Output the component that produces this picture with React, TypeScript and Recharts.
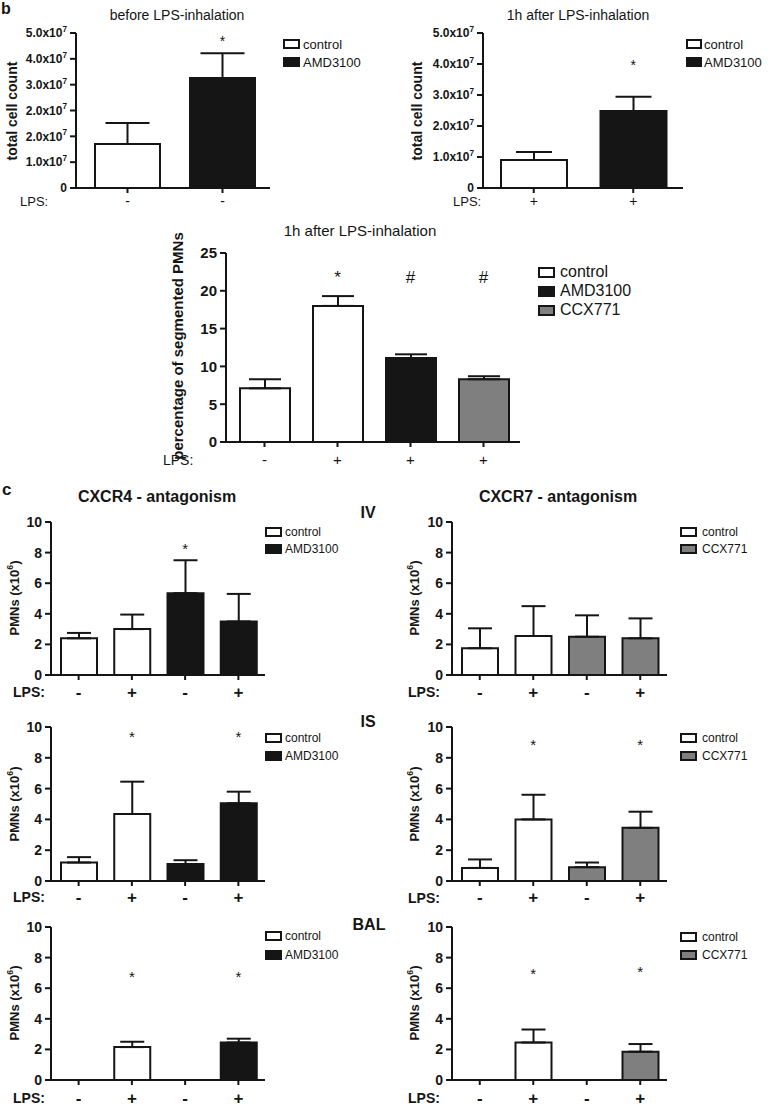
import React from 'react';
import { ComposedChart, Bar, Cell, XAxis, YAxis, ErrorBar, Line } from 'recharts';

const FONT = '"Liberation Sans", Arial, Helvetica, sans-serif';
const INK = '#151515';
const COLORS: Record<string, string> = { control: '#ffffff', AMD3100: '#151515', CCX771: '#7f7f7f' };

// ---------- panel b: total cell count ----------
const topGroups = ['control', 'AMD3100'];
const beforeLps = ['-', '-'];
const beforeCount = [1.42e7, 3.55e7];
const beforeSem = [0.68e7, 0.8e7];
const beforeSig = ['', '*'];
const beforeSigY = [null, 4.84e7];
const beforeTicks = [0, 0.8333e7, 1.6667e7, 2.5e7, 3.3333e7, 4.1667e7, 5e7];
const beforeTickLabels = ['0', '1.0x10^7', '2.0x10^7', '2.0x10^7', '3.0x10^7', '4.0x10^7', '5.0x10^7'];

const afterLps = ['+', '+'];
const afterCount = [0.9e7, 2.48e7];
const afterSem = [0.26e7, 0.46e7];
const afterSig = ['', '*'];
const afterSigY = [null, 4.06e7];
const afterTicks = [0, 1e7, 2e7, 3e7, 4e7, 5e7];
const afterTickLabels = ['0', '1.0x10^7', '2.0x10^7', '3.0x10^7', '4.0x10^7', '5.0x10^7'];

// ---------- panel b: percentage of segmented PMNs ----------
const pmnGroups = ['control', 'control', 'AMD3100', 'CCX771'];
const pmnLps = ['-', '+', '+', '+'];
const pmnPct = [7.1, 18.0, 11.1, 8.3];
const pmnSem = [1.2, 1.3, 0.5, 0.4];
const pmnSig = ['', '*', '#', '#'];
const pmnSigY = [null, 22.4, 21.8, 21.8];
const pmnTicks = [0, 5, 10, 15, 20, 25];
const pmnTickLabels = ['0', '5', '10', '15', '20', '25'];

// ---------- panel c ----------
const cLps = ['-', '+', '-', '+'];
const cxcr4Groups = ['control', 'control', 'AMD3100', 'AMD3100'];
const cxcr7Groups = ['control', 'control', 'CCX771', 'CCX771'];
const cTicks = [0, 2, 4, 6, 8, 10];
const cTickLabels = ['0', '2', '4', '6', '8', '10'];
const cSig = ['', '*', '*', '*'];
const ivSig4 = ['', '', '*', ''];

const iv4Val = [2.4, 3.0, 5.35, 3.5];
const iv4Sem = [0.35, 0.95, 2.15, 1.8];
const iv4SigY = [null, null, 8.5, null];

const iv7Val = [1.75, 2.55, 2.5, 2.4];
const iv7Sem = [1.3, 1.95, 1.4, 1.3];
const iv7SigY = [null, null, null, null];

const is4Val = [1.2, 4.35, 1.1, 5.05];
const is4Sem = [0.35, 2.1, 0.25, 0.75];
const is4SigY = [null, 9.6, null, 9.6];

const is7Val = [0.85, 4.0, 0.9, 3.45];
const is7Sem = [0.55, 1.6, 0.3, 1.05];
const is7SigY = [null, 9.1, null, 9.1];

const bal4Val = [0, 2.15, 0, 2.45];
const bal4Sem = [0, 0.35, 0, 0.25];
const bal4SigY = [null, 7.0, null, 7.0];

const bal7Val = [0, 2.45, 0, 1.85];
const bal7Sem = [0, 0.85, 0, 0.5];
const bal7SigY = [null, 7.2, null, 7.3];

type Row = { cat: string; lps: string; group: string; value: number; err: number[]; markY: number | null; mark: string };

function buildRows(groups: string[], lps: string[], values: number[], sems: number[], marks: string[], markY: (number | null)[]): Row[] {
  return values.map((v, i) => ({
    cat: String(i),
    lps: lps[i],
    group: groups[i],
    value: v,
    err: [0, sems[i]],
    markY: markY[i],
    mark: marks[i],
  }));
}

function TickText({ x, y, label, fs, anchor }: { x: number; y: number; label: string; fs: number; anchor: string }) {
  const parts = label.split('^');
  return (
    <text x={x} y={y} textAnchor={anchor as any} fontSize={fs} fontWeight="bold" fontFamily={FONT} fill={INK}>
      <tspan>{parts[0]}</tspan>
      {parts[1] ? (
        <tspan dy={-0.45 * fs} fontSize={0.68 * fs}>
          {parts[1]}
        </tspan>
      ) : null}
    </text>
  );
}

type PanelCfg = {
  left: number;
  top: number;
  width: number;
  height: number;
  x0: number;
  x1: number;
  yT: number;
  yB: number;
  yMax: number;
  ticks: number[];
  tickLabels: string[];
  rows: Row[];
  barSize: number;
  capHalf: number;
  yFont: number;
  xFont: number;
  xBold: boolean;
  xOffset: number;
  markFont: number;
  padLeft: number;
};

function Panel({ cfg }: { cfg: PanelCfg }) {
  const { left, top, width, height, x0, x1, yT, yB, yMax, ticks, tickLabels, rows, barSize, capHalf, yFont, xFont, xBold, xOffset, markFont, padLeft } = cfg;
  const yW = x0 - left;
  const xH = 25;
  const margin = { top: yT - top, right: left + width - x1, bottom: top + height - yB - xH, left: 0 };
  const axisY = yB - top;

  const xTick = (p: any) => {
    const idx = parseInt(p.payload.value, 10);
    const lab = rows[idx] ? rows[idx].lps : '';
    return (
      <text
        key={`xt${idx}`}
        x={p.x}
        y={axisY + xOffset + 0.33 * xFont}
        textAnchor="middle"
        fontSize={xFont}
        fontWeight={xBold ? 'bold' : 'normal'}
        fontFamily={FONT}
        fill={INK}
      >
        {lab}
      </text>
    );
  };

  const yTick = (p: any) => {
    const v = p.payload.value;
    let i = ticks.indexOf(v);
    if (i < 0) i = p.index;
    return (
      <g key={`yt${i}`}>
        <TickText x={yW - 9} y={p.y + 0.36 * yFont} label={tickLabels[i] || ''} fs={yFont} anchor="end" />
      </g>
    );
  };

  const markDot = (p: any) => {
    const { cx, cy, payload, index } = p;
    if (!payload || payload.markY == null || cy == null || isNaN(cy) || !payload.mark) return <g key={`m${index}`} />;
    const ch = payload.mark;
    const base = cy + (ch === '*' ? 0.58 : 0.36) * markFont;
    return (
      <text key={`m${index}`} x={cx} y={base} textAnchor="middle" fontSize={markFont} fontFamily={FONT} fill={INK}>
        {ch}
      </text>
    );
  };

  return (
    <div style={{ position: 'absolute', left, top, width, height }}>
      <ComposedChart width={width} height={height} data={rows} margin={margin}>
        <XAxis
          dataKey="cat"
          height={xH}
          interval={0}
          tickSize={5}
          padding={{ left: padLeft, right: 0 }}
          axisLine={{ stroke: INK, strokeWidth: 2 }}
          tickLine={{ stroke: INK, strokeWidth: 2 }}
          tick={xTick}
        />
        <YAxis
          width={yW}
          type="number"
          domain={[0, yMax]}
          allowDataOverflow
          ticks={ticks}
          interval={0}
          tickSize={6}
          axisLine={{ stroke: INK, strokeWidth: 2 }}
          tickLine={{ stroke: INK, strokeWidth: 2 }}
          tick={yTick}
        />
        <Bar dataKey="value" barSize={barSize} stroke={INK} strokeWidth={2} isAnimationActive={false}>
          {rows.map((r, i) => (
            <Cell key={`c${i}`} fill={COLORS[r.group]} />
          ))}
          <ErrorBar dataKey="err" width={capHalf} stroke={INK} strokeWidth={2} direction="y" />
        </Bar>
        <Line dataKey="markY" stroke="none" dot={markDot} activeDot={false} isAnimationActive={false} legendType="none" />
      </ComposedChart>
    </div>
  );
}

function T({ x, y, children, size = 14, bold = false, anchor = 'middle', rotate = false }: any) {
  const tx = anchor === 'middle' || rotate ? '-50%' : anchor === 'end' ? '-100%' : '0px';
  return (
    <div
      style={{
        position: 'absolute',
        left: x,
        top: y,
        transform: `translate(${tx}, -50%)${rotate ? ' rotate(-90deg)' : ''}`,
        whiteSpace: 'nowrap',
        fontFamily: FONT,
        fontSize: size,
        fontWeight: bold ? 'bold' : 'normal',
        lineHeight: 1,
        color: INK,
      }}
    >
      {children}
    </div>
  );
}

function Legend({ x, textX, ys, items, size, boxW, boxH }: { x: number; textX: number; ys: number[]; items: string[]; size: number; boxW: number; boxH: number }) {
  return (
    <>
      {items.map((it, i) => (
        <React.Fragment key={it}>
          <div
            style={{
              position: 'absolute',
              left: x,
              top: ys[i] - boxH / 2,
              width: boxW - 4,
              height: boxH - 4,
              border: `2px solid ${INK}`,
              background: COLORS[it],
            }}
          />
          <T x={textX} y={ys[i]} size={size} anchor="start">
            {it}
          </T>
        </React.Fragment>
      ))}
    </>
  );
}

const Sup = ({ children }: any) => (
  <span style={{ fontSize: '0.68em', verticalAlign: 'super', lineHeight: 0 }}>{children}</span>
);

const PmnLabel = () => (
  <span>
    PMNs (x10<Sup>6</Sup>)
  </span>
);

export default function App() {
  const p1: PanelCfg = {
    left: 0, top: 20, width: 290, height: 200, x0: 76, x1: 270, yT: 33, yB: 188, yMax: 5e7,
    ticks: beforeTicks, tickLabels: beforeTickLabels,
    rows: buildRows(topGroups, beforeLps, beforeCount, beforeSem, beforeSig, beforeSigY),
    barSize: 65, capHalf: 22, yFont: 12, xFont: 14, xBold: false, xOffset: 13, markFont: 14, padLeft: 4,
  };
  const p2: PanelCfg = {
    left: 400, top: 20, width: 300, height: 200, x0: 483, x1: 683, yT: 33, yB: 188, yMax: 5e7,
    ticks: afterTicks, tickLabels: afterTickLabels,
    rows: buildRows(topGroups, afterLps, afterCount, afterSem, afterSig, afterSigY),
    barSize: 66, capHalf: 18, yFont: 12, xFont: 14, xBold: false, xOffset: 13, markFont: 14, padLeft: 1,
  };
  const p3: PanelCfg = {
    left: 180, top: 240, width: 350, height: 240, x0: 226, x1: 520, yT: 253, yB: 442, yMax: 25,
    ticks: pmnTicks, tickLabels: pmnTickLabels,
    rows: buildRows(pmnGroups, pmnLps, pmnPct, pmnSem, pmnSig, pmnSigY),
    barSize: 50, capHalf: 16, yFont: 15, xFont: 15, xBold: false, xOffset: 18, markFont: 17, padLeft: 2,
  };
  const cBase = { width: 275, barSize: 36, capHalf: 12, yFont: 14, xFont: 17, xBold: true, markFont: 15, ticks: cTicks, tickLabels: cTickLabels, yMax: 10, padLeft: 1 };
  const ivL: PanelCfg = { ...cBase, left: 0, top: 510, height: 200, x0: 51, x1: 265, yT: 522, yB: 675, xOffset: 17,
    rows: buildRows(cxcr4Groups, cLps, iv4Val, iv4Sem, ivSig4, iv4SigY) };
  const ivR: PanelCfg = { ...cBase, left: 400, top: 510, height: 200, x0: 452, x1: 667, yT: 522, yB: 675, xOffset: 17,
    rows: buildRows(cxcr7Groups, cLps, iv7Val, iv7Sem, cSig, iv7SigY) };
  const isL: PanelCfg = { ...cBase, left: 0, top: 715, height: 200, x0: 51, x1: 265, yT: 727, yB: 881, xOffset: 16,
    rows: buildRows(cxcr4Groups, cLps, is4Val, is4Sem, cSig, is4SigY) };
  const isR: PanelCfg = { ...cBase, left: 400, top: 715, height: 200, x0: 452, x1: 667, yT: 727, yB: 881, xOffset: 16,
    rows: buildRows(cxcr7Groups, cLps, is7Val, is7Sem, cSig, is7SigY) };
  const balL: PanelCfg = { ...cBase, left: 0, top: 915, height: 194, x0: 51, x1: 265, yT: 927, yB: 1080, xOffset: 18,
    rows: buildRows(cxcr4Groups, cLps, bal4Val, bal4Sem, cSig, bal4SigY) };
  const balR: PanelCfg = { ...cBase, left: 400, top: 915, height: 194, x0: 452, x1: 667, yT: 927, yB: 1080, xOffset: 18,
    rows: buildRows(cxcr7Groups, cLps, bal7Val, bal7Sem, cSig, bal7SigY) };

  return (
    <div style={{ position: 'absolute', left: 0, top: 0, width: 776, height: 1109, background: '#fff', fontFamily: FONT }}>
      {/* panel letters */}
      <T x={1} y={9} size={16} bold anchor="start">b</T>
      <T x={2} y={489} size={17} bold anchor="start">c</T>

      {/* b top row */}
      <T x={177} y={15} size={14}>before LPS-inhalation</T>
      <T x={578} y={15} size={14}>1h after LPS-inhalation</T>
      <T x={12} y={111} size={14} bold rotate>total cell count</T>
      <T x={417} y={111} size={14} bold rotate>total cell count</T>
      <Panel cfg={p1} />
      <Panel cfg={p2} />
      <T x={20} y={201} size={13} anchor="start">LPS:</T>
      <T x={453} y={201} size={13} anchor="start">LPS:</T>
      <Legend x={283} textX={303} ys={[43.5, 61.5]} items={topGroups} size={13} boxW={17} boxH={10} />
      <Legend x={686} textX={704} ys={[43.5, 61.5]} items={topGroups} size={13} boxW={16} boxH={10} />

      {/* b middle */}
      <T x={360} y={230} size={15}>1h after LPS-inhalation</T>
      <T x={177} y={346} size={15} bold rotate>percentage of segmented PMNs</T>
      <Panel cfg={p3} />
      <T x={163} y={460} size={14} anchor="start">LPS:</T>
      <Legend x={538} textX={560} ys={[272, 291, 310]} items={['control', 'AMD3100', 'CCX771']} size={16} boxW={17} boxH={11} />

      {/* c */}
      <T x={157} y={497} size={16} bold>CXCR4 - antagonism</T>
      <T x={558} y={497} size={16} bold>CXCR7 - antagonism</T>
      <T x={368} y={513} size={16} bold>IV</T>
      <T x={368} y={722} size={16} bold>IS</T>
      <T x={369} y={925} size={16} bold>BAL</T>

      <T x={14} y={598} size={13} bold rotate><PmnLabel /></T>
      <T x={414} y={598} size={13} bold rotate><PmnLabel /></T>
      <T x={14} y={804} size={13} bold rotate><PmnLabel /></T>
      <T x={414} y={804} size={13} bold rotate><PmnLabel /></T>
      <T x={14} y={1003} size={13} bold rotate><PmnLabel /></T>
      <T x={414} y={1003} size={13} bold rotate><PmnLabel /></T>

      <Panel cfg={ivL} />
      <Panel cfg={ivR} />
      <Panel cfg={isL} />
      <Panel cfg={isR} />
      <Panel cfg={balL} />
      <Panel cfg={balR} />

      <T x={13} y={692} size={14} bold anchor="start">LPS:</T>
      <T x={408} y={692} size={14} bold anchor="start">LPS:</T>
      <T x={13} y={897} size={14} bold anchor="start">LPS:</T>
      <T x={408} y={898} size={14} bold anchor="start">LPS:</T>
      <T x={13} y={1098} size={14} bold anchor="start">LPS:</T>
      <T x={408} y={1098} size={14} bold anchor="start">LPS:</T>

      <Legend x={265} textX={285} ys={[532, 549]} items={['control', 'AMD3100']} size={12} boxW={17} boxH={10} />
      <Legend x={680} textX={702} ys={[532, 549]} items={['control', 'CCX771']} size={12} boxW={17} boxH={10} />
      <Legend x={265} textX={285} ys={[738, 756]} items={['control', 'AMD3100']} size={12} boxW={17} boxH={10} />
      <Legend x={680} textX={702} ys={[738, 756]} items={['control', 'CCX771']} size={12} boxW={17} boxH={10} />
      <Legend x={265} textX={285} ys={[936, 955]} items={['control', 'AMD3100']} size={12} boxW={17} boxH={10} />
      <Legend x={680} textX={702} ys={[937, 955]} items={['control', 'CCX771']} size={12} boxW={17} boxH={10} />
    </div>
  );
}
